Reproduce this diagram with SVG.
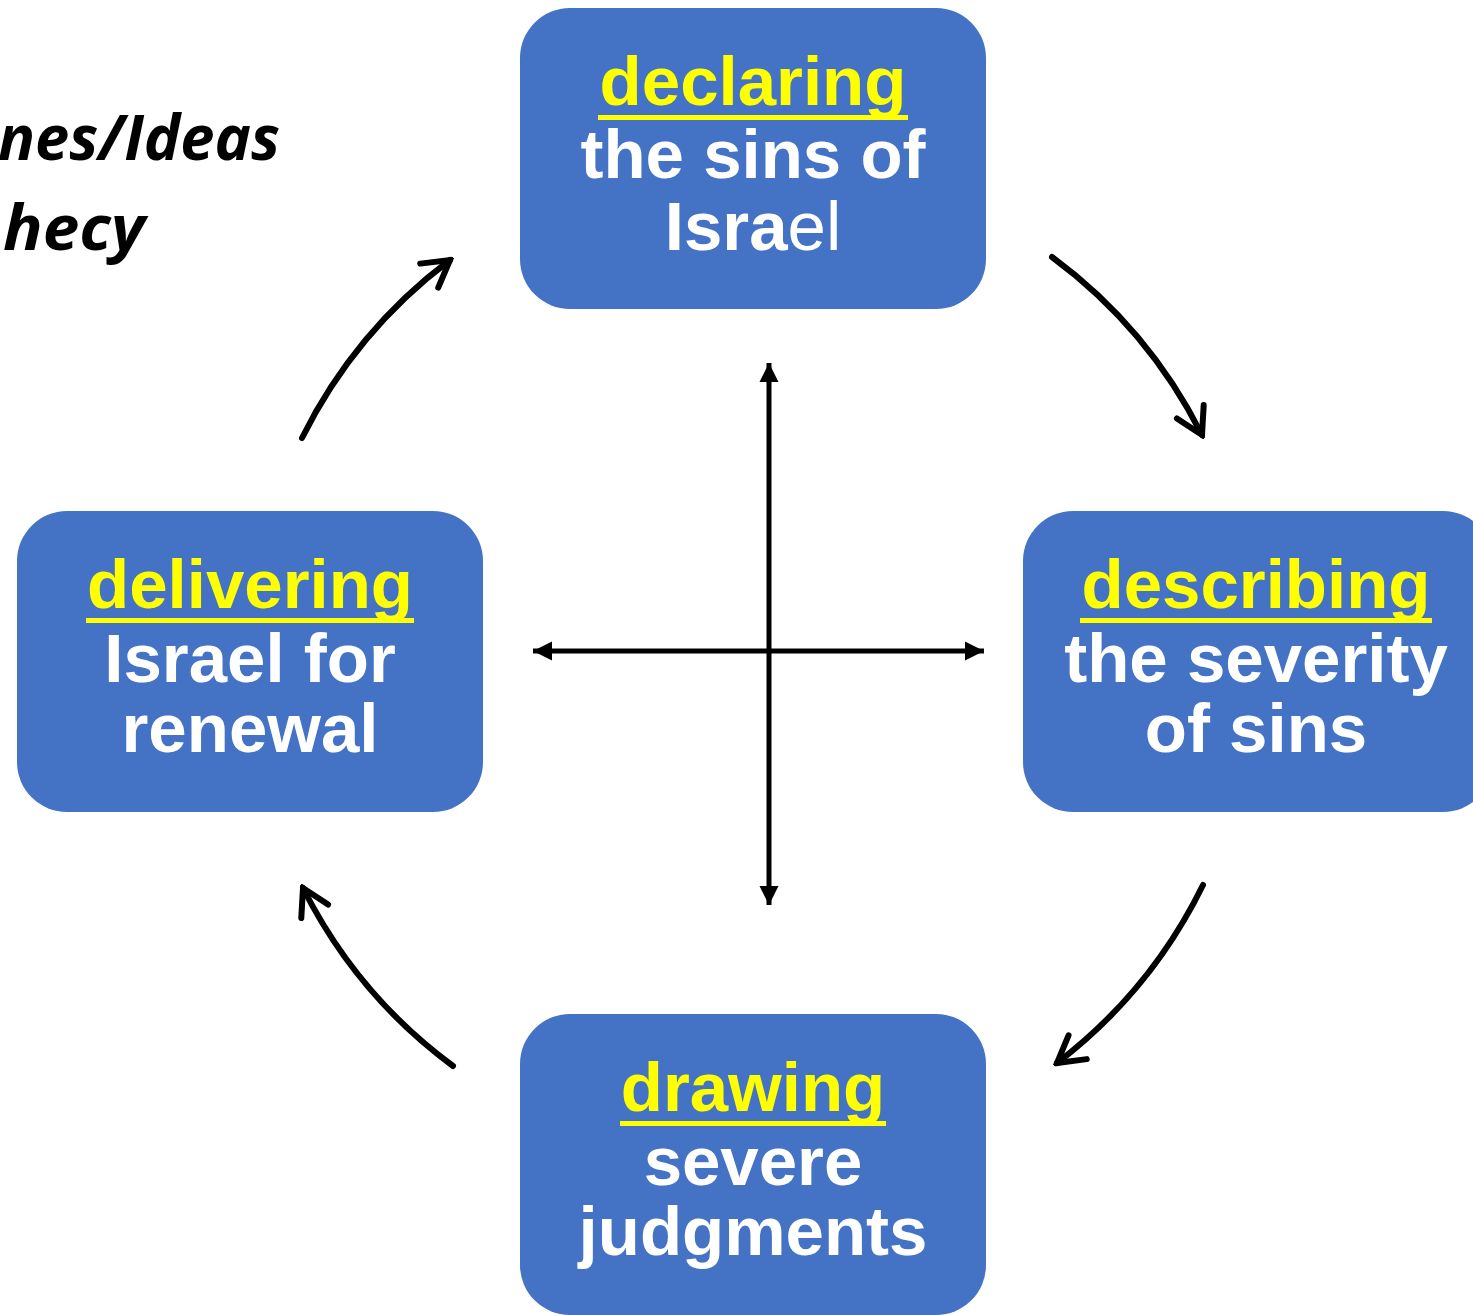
<svg xmlns="http://www.w3.org/2000/svg" width="1473" height="1315" viewBox="0 0 1473 1315">
<style>
.box{fill:#4472C4;}
.t{font-family:"Liberation Sans",Arial,sans-serif;font-weight:bold;font-size:69px;text-anchor:middle;fill:#FFFFFF;}
.y{fill:#FFFF00;}
.ul{fill:#FFFF00;}
.title{font-family:"Open Sans","Noto Sans",sans-serif;font-weight:bold;font-style:italic;font-size:62px;fill:#000;text-anchor:end;}
.arc{fill:none;stroke:#000;stroke-width:6;stroke-linecap:round;}
.ax{fill:none;stroke:#000;stroke-width:5;}
</style>
<defs>
<marker id="chev" markerUnits="userSpaceOnUse" viewBox="-30 -20 34 40" refX="0" refY="0" markerWidth="34" markerHeight="40" orient="auto">
<path d="M-26,-15 L0,0 L-26,15" fill="none" stroke="#000" stroke-width="6" stroke-linecap="round" stroke-linejoin="miter"/>
</marker>
<marker id="tri" markerUnits="userSpaceOnUse" viewBox="-20 -10 20 20" refX="0" refY="0" markerWidth="20" markerHeight="20" orient="auto-start-reverse">
<path d="M-19,-9.5 L0,0 L-19,9.5 Z" fill="#000"/>
</marker>
</defs>
<rect width="1473" height="1315" fill="#FFFFFF"/>
<g id="title">
<text class="title" x="280" y="160" textLength="282" lengthAdjust="spacingAndGlyphs">nes/Ideas</text>
<text class="title" x="145" y="250" textLength="142" lengthAdjust="spacingAndGlyphs">hecy</text>
</g>
<g id="connectors">
<path class="arc" d="M302,438 A502,502 0 0 1 450,260" marker-end="url(#chev)"/>
<path class="arc" d="M1052,257 A502,502 0 0 1 1202,435" marker-end="url(#chev)"/>
<path class="arc" d="M1203,885 A502,502 0 0 1 1057,1063" marker-end="url(#chev)"/>
<path class="arc" d="M453,1066 A502,502 0 0 1 303,888" marker-end="url(#chev)"/>
<line class="ax" x1="769" y1="363" x2="769" y2="905" marker-start="url(#tri)" marker-end="url(#tri)"/>
<line class="ax" x1="533" y1="651" x2="984" y2="651" marker-start="url(#tri)" marker-end="url(#tri)"/>
</g>
<g id="declaring">
<rect class="box" x="520" y="8" width="466" height="301" rx="50"/>
<text class="t y" x="753" y="105">declaring</text>
<rect class="ul" x="598" y="115" width="310" height="5"/>
<text class="t" x="753" y="178">the sins of</text>
<text class="t" x="753" y="250">Isra<tspan font-weight="normal">el</tspan></text>
</g>
<g id="describing">
<rect class="box" x="1023" y="511" width="470" height="301" rx="50"/>
<text class="t y" x="1256" y="608">describing</text>
<rect class="ul" x="1080" y="618" width="352" height="5"/>
<text class="t" x="1256" y="682">the severity</text>
<text class="t" x="1256" y="752">of sins</text>
</g>
<g id="drawing">
<rect class="box" x="520" y="1014" width="466" height="301" rx="50"/>
<text class="t y" x="753" y="1111">drawing</text>
<rect class="ul" x="620" y="1121" width="266" height="5"/>
<text class="t" x="753" y="1185">severe</text>
<text class="t" x="753" y="1255">judgments</text>
</g>
<g id="delivering">
<rect class="box" x="17" y="511" width="466" height="301" rx="50"/>
<text class="t y" x="250" y="608">delivering</text>
<rect class="ul" x="86" y="618" width="328" height="5"/>
<text class="t" x="250" y="682">Israel for</text>
<text class="t" x="250" y="752">renewal</text>
</g>
</svg>
